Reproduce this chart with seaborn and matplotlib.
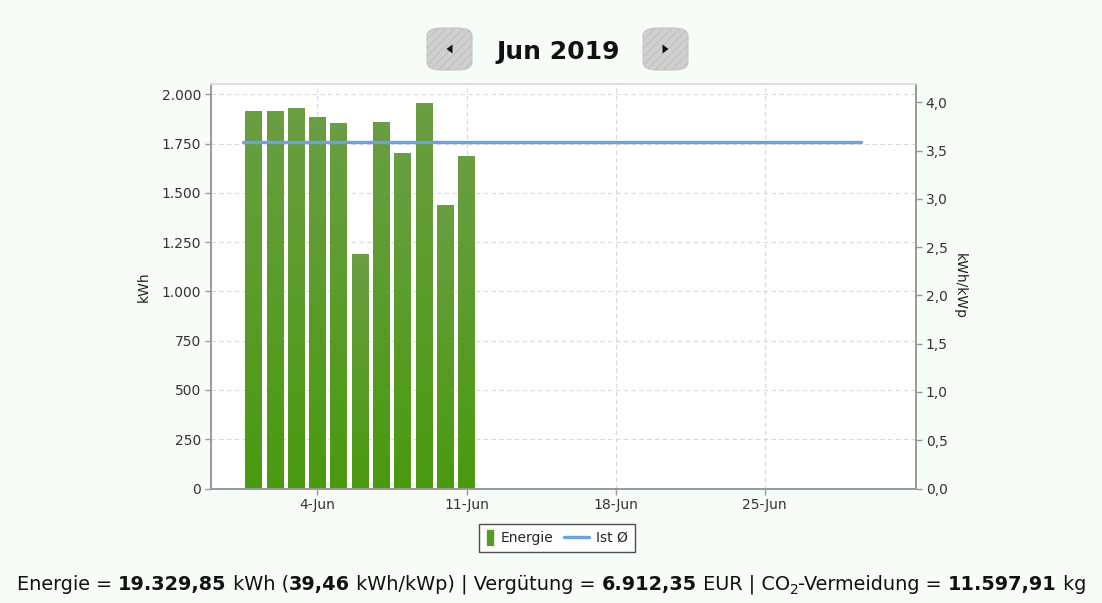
import numpy as np
import pandas as pd
import matplotlib
matplotlib.use("Agg")
import matplotlib.pyplot as plt
import seaborn as sns
from matplotlib.patches import FancyBboxPatch, Patch, Polygon, Rectangle
from matplotlib.lines import Line2D
from matplotlib.colors import LinearSegmentedColormap
from matplotlib.ticker import FuncFormatter, FixedLocator

# ---------------- data ----------------
title = "Jun 2019"
days = [1, 2, 3, 4, 5, 6, 7, 8, 9, 10, 11]
energy_kwh = [1913, 1915, 1930, 1883, 1852, 1191, 1861, 1700, 1956, 1436, 1685]
month_days = list(range(1, 31))
kwp = 489.9                      # 19.329,85 kWh / 39,46 kWh/kWp
avg_kwh_per_kwp = 3.587          # Ist Ø
xtick_days = [4, 11, 18, 25]
xtick_labels = ["4-Jun", "11-Jun", "18-Jun", "25-Jun"]
left_ticks = [0, 250, 500, 750, 1000, 1250, 1500, 1750, 2000]
right_ticks = [0.0, 0.5, 1.0, 1.5, 2.0, 2.5, 3.0, 3.5, 4.0]
summary = [("Energie = ", False), ("19.329,85", True), (" kWh (", False),
           ("39,46", True), (" kWh/kWp) | Vergütung = ", False),
           ("6.912,35", True), (" EUR | CO", False), ("2", "sub"),
           ("-Vermeidung = ", False), ("11.597,91", True), (" kg", False)]

df = pd.DataFrame({"day": days, "kwh": energy_kwh})
line_df = pd.DataFrame({"day": month_days, "val": [avg_kwh_per_kwp] * len(month_days)})

# ---------------- style ----------------
sns.set_theme(style="white")
plt.rcParams["font.family"] = ["DejaVu Sans"]
BG = "#f6fdf6"
TICKC = "#333333"
SPINE = "#999999"
GREEN = "#559b25"
BLUE = "#6fa2dc"

fig = plt.figure(figsize=(11.02, 6.03), dpi=100, facecolor=BG)
ax = fig.add_axes([211 / 1102, 1 - 488.5 / 603, (916 - 211) / 1102, (488.5 - 84) / 603])
ax.set_facecolor("white")

sns.barplot(data=df, x="day", y="kwh", native_scale=True, width=0.78,
            color=GREEN, edgecolor="white", linewidth=0.8, ax=ax, zorder=2)

# gradient fill inside each bar
cmap = LinearSegmentedColormap.from_list("g", ["#4a9a10", "#6a9e42"])
grad = np.linspace(0, 1, 64).reshape(-1, 1)
for p in ax.patches:
    x0, y0 = p.get_x(), p.get_y()
    w, h = p.get_width(), p.get_height()
    im = ax.imshow(grad, cmap=cmap, aspect="auto", origin="lower",
                   extent=[x0, x0 + w, y0, y0 + h], zorder=2.5)
    im.set_clip_path(p)

ax.set_xlim(-1.0, 32.1)
ymax_left = 2052
ax.set_ylim(0, ymax_left)

ax.grid(True, color="#d9d9d9", linestyle=(0, (4, 3)), linewidth=0.8)
ax.set_axisbelow(True)
ax.xaxis.set_major_locator(FixedLocator(xtick_days))
ax.set_xticklabels(xtick_labels)
ax.yaxis.set_major_locator(FixedLocator(left_ticks))
ax.yaxis.set_major_formatter(FuncFormatter(lambda v, p: f"{int(v):,}".replace(",", ".")))
ax.tick_params(axis="both", which="major", length=4, width=1, color=SPINE,
               labelsize=10, labelcolor=TICKC, direction="out", pad=3)
ax.tick_params(axis="x", bottom=True)
ax.tick_params(axis="y", left=True)
ax.set_xlabel("")
ax.set_ylabel("kWh", fontsize=10, color="#222222", labelpad=8)
for s in ["left", "bottom", "right"]:
    ax.spines[s].set_color(SPINE)
    ax.spines[s].set_linewidth(1.2)
ax.spines["top"].set_color("#dddddd")

# right axis
ax2 = ax.twinx()
ax2.set_ylim(0, ymax_left / kwp)
sns.lineplot(data=line_df, x=line_df["day"] - 0.5, y="val", color=BLUE,
             linewidth=2.4, ax=ax2, zorder=3)
ax2.set_xlim(-1.0, 32.1)
ax2.yaxis.set_major_locator(FixedLocator(right_ticks))
ax2.yaxis.set_major_formatter(FuncFormatter(lambda v, p: f"{v:.1f}".replace(".", ",")))
ax2.tick_params(axis="y", length=4, width=1, color=SPINE, labelsize=10,
                labelcolor=TICKC, direction="out", pad=3, right=True)
ax2.set_ylabel("kWh/kWp", fontsize=10, color="#222222", rotation=270, labelpad=14)
ax2.set_xlabel("")
for s in ["left", "bottom", "right"]:
    ax2.spines[s].set_color(SPINE)
    ax2.spines[s].set_linewidth(1.2)
ax2.spines["top"].set_color("#dddddd")
ax2.grid(False)


# legend: narrow vertical patch + line that extends to the left of its slot
class NarrowPatchHandler:
    def legend_artist(self, legend, orig_handle, fontsize, handlebox):
        x0, y0 = handlebox.xdescent, handlebox.ydescent
        w, h = handlebox.width, handlebox.height
        r = Rectangle((-x0, -y0 + h / 2 - 6), w, 12, facecolor=GREEN,
                      edgecolor="white", linewidth=0.5)
        handlebox.add_artist(r)
        return r


class LongLineHandler:
    def legend_artist(self, legend, orig_handle, fontsize, handlebox):
        x0, y0 = handlebox.xdescent, handlebox.ydescent
        w, h = handlebox.width, handlebox.height
        ln = Line2D([-x0 + w - 18.5, -x0 + w], [-y0 + h / 2] * 2, color=BLUE, lw=2.4)
        handlebox.add_artist(ln)
        return ln


handles = [Patch(facecolor=GREEN), Line2D([0], [0], color=BLUE, lw=2.4)]
leg = fig.legend(handles, ["Energie", "Ist Ø"], loc="center",
                 bbox_to_anchor=(557 / 1102, 1 - 538 / 603), ncol=2,
                 frameon=True, fancybox=False, fontsize=10, handlelength=0.58,
                 handleheight=0.9, columnspacing=2.0, handletextpad=0.5,
                 borderpad=0.5, borderaxespad=0, edgecolor="#222222", facecolor="white",
                 handler_map={Patch: NarrowPatchHandler(), Line2D: LongLineHandler()})
leg.get_frame().set_linewidth(1.0)

# title
fig.text(558 / 1102, 1 - 52 / 603, title, ha="center", va="center",
         fontsize=18, fontweight="bold", color="#111111")

# nav buttons
for cx, direction in [(449.5, -1), (665.5, 1)]:
    bw, bh = 45 / 1102, 42 / 603
    cy = 49
    b = FancyBboxPatch((cx / 1102 - bw / 2, 1 - cy / 603 - bh / 2), bw, bh,
                       boxstyle="round,pad=0,rounding_size=0.013",
                       transform=fig.transFigure, facecolor="#d0d0d0",
                       edgecolor="#c4c4c4", hatch="////", linewidth=0.8)
    fig.patches.append(b)
    tx, ty = cx / 1102, 1 - cy / 603
    s = 3 / 1102
    sv = 4.5 / 603
    tri = Polygon([(tx - direction * s, ty + sv), (tx - direction * s, ty - sv),
                   (tx + direction * s, ty)], closed=True,
                  transform=fig.transFigure, facecolor="#111111", edgecolor="none")
    fig.patches.append(tri)

# summary line with bold pieces
fig.canvas.draw()
renderer = fig.canvas.get_renderer()
x = 17
ybase = 1 - 590 / 603
for txt, style in summary:
    if style == "sub":
        t = fig.text(x / 1102, ybase - 4 / 603, txt, fontsize=10, color="#111111",
                     ha="left", va="baseline")
    else:
        t = fig.text(x / 1102, ybase, txt, fontsize=13.85, color="#111111",
                     fontweight="bold" if style else "normal",
                     ha="left", va="baseline")
    bb = t.get_window_extent(renderer=renderer)
    x = bb.x1

fig.savefig("out.png", dpi=100, facecolor=BG)
